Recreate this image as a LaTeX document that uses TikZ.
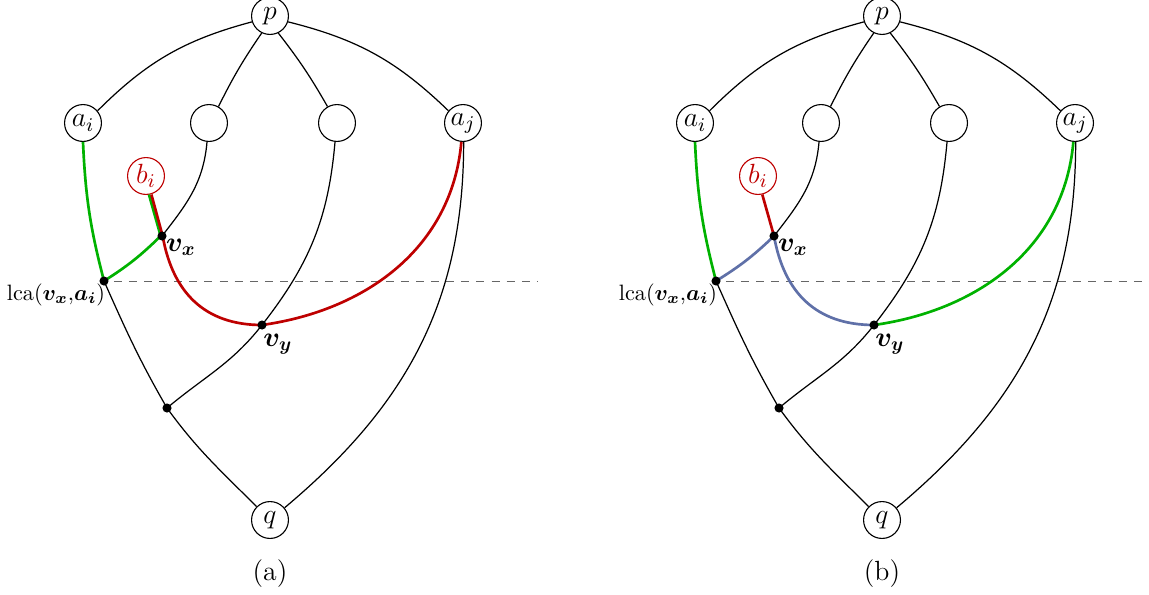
\RequirePackage{fix-cm}
\documentclass[tikz,border=0pt]{standalone}
\usepackage{amsmath,bm}
\definecolor{cgreen}{RGB}{0,178,0}
\definecolor{cred}{RGB}{190,0,0}
\definecolor{cblue}{RGB}{95,112,168}
\newcommand{\treepanel}[2]{%
  \node[vtx] (p#1) at (270,-16) {$p$};
  \node[vtx] (ai#1) at (83,-123) {$a_i$};
  \node[vtx] (ea#1) at (209,-123) {};
  \node[vtx] (eb#1) at (337,-123) {};
  \node[vtx] (aj#1) at (463,-123) {$a_j$};
  \node[vtx,draw=cred,text=cred] (bi#1) at (146,-176) {$b_i$};
  \node[vtx] (q#1) at (270,-520) {$q$};
  \coordinate (vx#1) at (162,-236);
  \coordinate (lca#1) at (104,-281);
  \coordinate (vy#1) at (262,-325);
  \coordinate (w#1) at (167,-408);
  \coordinate (dl#1) at (8,-281);
  \coordinate (dr#1) at (538,-281);
  \draw[dashline] (dl#1) -- (dr#1);
  \node[fill=white,inner sep=1.5pt,font=\fontsize{10}{12}\selectfont] (lcal#1) at (56,-295) {lca$(\boldsymbol{v_x}{,}\boldsymbol{a_i})$};
  \draw[edge] (ai#1.40) to[bend left=15] (p#1.198);
  \draw[edge] (ea#1.60) to[bend left=4] (p#1.244);
  \draw[edge] (p#1.-64) to[bend left=4] (eb#1.120);
  \draw[edge] (p#1.-18) to[bend left=15] (aj#1.140);
  \draw[edge] (ea#1.-96) to[out=-95,in=52] (vx#1);
  \draw[edge] (eb#1.-96) to[out=-95,in=52] (vy#1) to[out=-128,in=40] (w#1);
  \draw[edge] (lca#1) to[out=-66,in=120] (w#1) to[out=-54,in=135] (q#1.135);
  \draw[edge] (aj#1.-88) to[out=-90,in=40] (q#1.40);
  \node[lbl] (vxl#1) at (181,-247) {$\boldsymbol{v_x}$};
  \node[lbl] (vyl#1) at (278,-344) {$\boldsymbol{v_y}$};
  \node (cap#1) at (270,-574) {(#2)};
}
\newcommand{\paneldots}[1]{%
  \node[dotn] (vxd#1) at (vx#1) {};
  \node[dotn] (lcad#1) at (lca#1) {};
  \node[dotn] (vyd#1) at (vy#1) {};
  \node[dotn] (wd#1) at (w#1) {};
}
\begin{document}
\begin{tikzpicture}[x=0.45pt,y=0.45pt,font=\fontsize{12.5}{15}\selectfont,
  vtx/.style={circle,draw,line width=0.5pt,minimum size=16.6pt,inner sep=0pt},
  dotn/.style={circle,fill,inner sep=0pt,minimum size=4.1pt},
  edge/.style={line width=0.55pt},
  cedge/.style={line width=1.2pt},
  lbl/.style={inner sep=1pt},
  dashline/.style={draw=black!60,line width=0.45pt,dash pattern=on 3.6pt off 3.2pt}]
\useasboundingbox (0,0) rectangle (1149,-594);
% panel (a)
\treepanel{A}{a}
\draw[cedge,cgreen] (aiA.-90) to[bend right=6] (lcaA);
\draw[cedge,cgreen] ([xshift=-0.6pt]biA.-77) -- ([xshift=-0.6pt]vxA) to[bend left=6] (lcaA);
\draw[cedge,cred] ([xshift=0.5pt]biA.-77) -- ([xshift=0.3pt]vxA) to[out=-80,in=180,looseness=1.1] (vyA) to[out=8,in=-95] (ajA.-95);
\paneldots{A}
% panel (b)
\begin{scope}[xshift=275.4pt]
\treepanel{B}{b}
\draw[cedge,cgreen] (aiB.-90) to[bend right=6] (lcaB);
\draw[cedge,cred] (biB.-77) -- (vxB);
\draw[cedge,cblue] (lcaB) to[bend right=6] (vxB) to[out=-80,in=180,looseness=1.1] (vyB);
\draw[cedge,cgreen] (vyB) to[out=8,in=-95] (ajB.-95);
\paneldots{B}
\end{scope}
\end{tikzpicture}
\end{document}
